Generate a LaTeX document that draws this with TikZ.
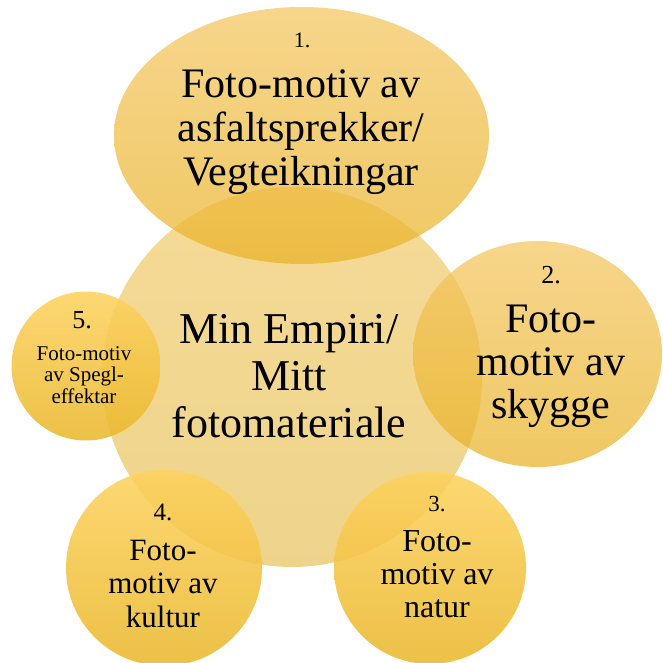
\documentclass[tikz,border=0pt]{standalone}
\usepackage{fontspec}
\setmainfont{Liberation Serif}
\usetikzlibrary{shapes.geometric}
\definecolor{cenT}{RGB}{237,183,48}
\definecolor{cenB}{RGB}{222,168,22}
\definecolor{ellT}{RGB}{244,198,95}
\definecolor{ellM}{RGB}{243,190,58}
\definecolor{ellB}{RGB}{233,178,38}
\definecolor{smT}{RGB}{253,210,95}
\definecolor{smM}{RGB}{254,200,35}
\definecolor{smB}{RGB}{234,184,45}
\tikzset{
  blob/.style={inner sep=0pt, outer sep=0pt, draw=none},
  cen/.style={blob, circle, top color=cenT, bottom color=cenB, fill opacity=0.5},
  big/.style={blob, ellipse, top color=ellT, middle color=ellM, bottom color=ellB, fill opacity=0.72},
  sm/.style={blob, circle, top color=smT, middle color=smM, bottom color=smB, fill opacity=0.88},
  lbl/.style={anchor=base, align=center, inner sep=0pt, text=black}
}
\newcommand{\fs}[2]{\fontsize{#1}{#2}\selectfont}
\begin{document}
\begin{tikzpicture}[x=1pt,y=-1pt]
\useasboundingbox (0,0) rectangle (662,663);
% shapes
\node[cen, minimum size=380pt] (c0) at (292,377) {};
\node[big, minimum width=375pt, minimum height=257pt] (c1) at (301.5,135.5) {};
\node[big, minimum width=249pt, minimum height=226pt] (c2) at (537.5,354) {};
\node[sm, minimum size=192pt] (c3) at (430,568) {};
\node[sm, minimum size=196pt] (c4) at (164,568) {};
\node[sm, minimum size=149pt] (c5) at (86,366) {};
% texts (anchor base = baseline of last line)
\node[lbl, font=\fs{22}{24}] (n1) at (302,48) {1.};
\node[lbl, font=\fs{42}{43.5}] (t1) at (301,185) {Foto-motiv av\\asfaltsprekker/\\Vegteikningar};
\node[lbl, font=\fs{44}{47}] (t0) at (289,437) {Min Empiri/\\Mitt\\fotomateriale};
\node[lbl, font=\fs{26}{28}] (n2) at (551,283) {2.};
\node[lbl, font=\fs{42}{43}] (t2) at (551,418) {Foto-\\motiv av\\skygge};
\node[lbl, font=\fs{23}{25}] (n3) at (437,511) {3.};
\node[lbl, font=\fs{32}{33}] (t3) at (437,617) {Foto-\\motiv av\\natur};
\node[lbl, font=\fs{25}{27}] (n4) at (163,520) {4.};
\node[lbl, font=\fs{31}{33.5}] (t4) at (163,627) {Foto-\\motiv av\\kultur};
\node[lbl, font=\fs{26}{28}] (n5) at (82,328) {5.};
\node[lbl, font=\fs{21}{21.5}] (t5) at (84,403) {Foto-motiv\\av Spegl-\\effektar};
\end{tikzpicture}
\end{document}
